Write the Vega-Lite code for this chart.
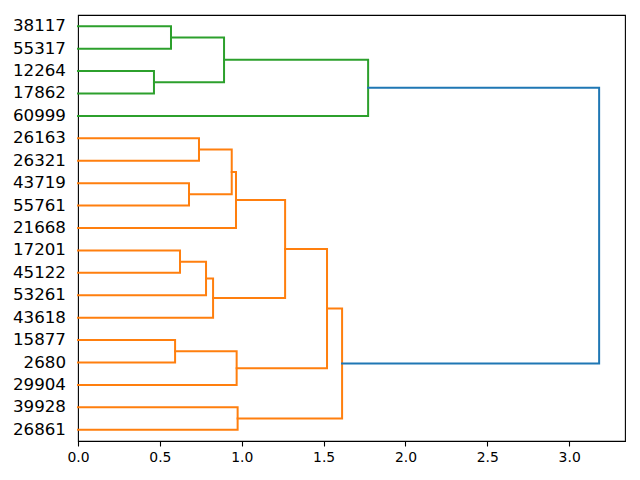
{
  "$schema": "https://vega.github.io/schema/vega-lite/v6.json",
  "width": 547,
  "height": 426,
  "autosize": {"type": "none"},
  "padding": {"left": 78, "top": 15, "right": 15, "bottom": 39},
  "config": {
    "view": {"stroke": "black", "strokeWidth": 1.1},
    "font": "DejaVu Sans",
    "axis": {"labelFont": "DejaVu Sans", "labelColor": "black", "domainColor": "black", "tickColor": "black", "grid": false}
  },
  "datasets": {
    "links": [
      {"link": 1, "c": "g", "i": 0, "x": 0, "y": 185}, {"link": 1, "c": "g", "i": 1, "x": 0.568, "y": 185}, {"link": 1, "c": "g", "i": 2, "x": 0.568, "y": 175}, {"link": 1, "c": "g", "i": 3, "x": 0, "y": 175},
      {"link": 2, "c": "g", "i": 0, "x": 0, "y": 165}, {"link": 2, "c": "g", "i": 1, "x": 0.464, "y": 165}, {"link": 2, "c": "g", "i": 2, "x": 0.464, "y": 155}, {"link": 2, "c": "g", "i": 3, "x": 0, "y": 155},
      {"link": 3, "c": "g", "i": 0, "x": 0.568, "y": 180}, {"link": 3, "c": "g", "i": 1, "x": 0.892, "y": 180}, {"link": 3, "c": "g", "i": 2, "x": 0.892, "y": 160}, {"link": 3, "c": "g", "i": 3, "x": 0.464, "y": 160},
      {"link": 4, "c": "g", "i": 0, "x": 0.892, "y": 170}, {"link": 4, "c": "g", "i": 1, "x": 1.772, "y": 170}, {"link": 4, "c": "g", "i": 2, "x": 1.772, "y": 145}, {"link": 4, "c": "g", "i": 3, "x": 0, "y": 145},
      {"link": 5, "c": "o", "i": 0, "x": 0, "y": 135}, {"link": 5, "c": "o", "i": 1, "x": 0.739, "y": 135}, {"link": 5, "c": "o", "i": 2, "x": 0.739, "y": 125}, {"link": 5, "c": "o", "i": 3, "x": 0, "y": 125},
      {"link": 6, "c": "o", "i": 0, "x": 0, "y": 115}, {"link": 6, "c": "o", "i": 1, "x": 0.678, "y": 115}, {"link": 6, "c": "o", "i": 2, "x": 0.678, "y": 105}, {"link": 6, "c": "o", "i": 3, "x": 0, "y": 105},
      {"link": 7, "c": "o", "i": 0, "x": 0.739, "y": 130}, {"link": 7, "c": "o", "i": 1, "x": 0.939, "y": 130}, {"link": 7, "c": "o", "i": 2, "x": 0.939, "y": 110}, {"link": 7, "c": "o", "i": 3, "x": 0.678, "y": 110},
      {"link": 8, "c": "o", "i": 0, "x": 0.939, "y": 120}, {"link": 8, "c": "o", "i": 1, "x": 0.965, "y": 120}, {"link": 8, "c": "o", "i": 2, "x": 0.965, "y": 95}, {"link": 8, "c": "o", "i": 3, "x": 0, "y": 95},
      {"link": 9, "c": "o", "i": 0, "x": 0, "y": 85}, {"link": 9, "c": "o", "i": 1, "x": 0.623, "y": 85}, {"link": 9, "c": "o", "i": 2, "x": 0.623, "y": 75}, {"link": 9, "c": "o", "i": 3, "x": 0, "y": 75},
      {"link": 10, "c": "o", "i": 0, "x": 0.623, "y": 80}, {"link": 10, "c": "o", "i": 1, "x": 0.782, "y": 80}, {"link": 10, "c": "o", "i": 2, "x": 0.782, "y": 65}, {"link": 10, "c": "o", "i": 3, "x": 0, "y": 65},
      {"link": 11, "c": "o", "i": 0, "x": 0.782, "y": 72.5}, {"link": 11, "c": "o", "i": 1, "x": 0.825, "y": 72.5}, {"link": 11, "c": "o", "i": 2, "x": 0.825, "y": 55}, {"link": 11, "c": "o", "i": 3, "x": 0, "y": 55},
      {"link": 12, "c": "o", "i": 0, "x": 0.965, "y": 107.5}, {"link": 12, "c": "o", "i": 1, "x": 1.265, "y": 107.5}, {"link": 12, "c": "o", "i": 2, "x": 1.265, "y": 63.75}, {"link": 12, "c": "o", "i": 3, "x": 0.825, "y": 63.75},
      {"link": 13, "c": "o", "i": 0, "x": 0, "y": 45}, {"link": 13, "c": "o", "i": 1, "x": 0.593, "y": 45}, {"link": 13, "c": "o", "i": 2, "x": 0.593, "y": 35}, {"link": 13, "c": "o", "i": 3, "x": 0, "y": 35},
      {"link": 14, "c": "o", "i": 0, "x": 0.593, "y": 40}, {"link": 14, "c": "o", "i": 1, "x": 0.969, "y": 40}, {"link": 14, "c": "o", "i": 2, "x": 0.969, "y": 25}, {"link": 14, "c": "o", "i": 3, "x": 0, "y": 25},
      {"link": 15, "c": "o", "i": 0, "x": 1.265, "y": 85.625}, {"link": 15, "c": "o", "i": 1, "x": 1.521, "y": 85.625}, {"link": 15, "c": "o", "i": 2, "x": 1.521, "y": 32.5}, {"link": 15, "c": "o", "i": 3, "x": 0.969, "y": 32.5},
      {"link": 16, "c": "o", "i": 0, "x": 0, "y": 15}, {"link": 16, "c": "o", "i": 1, "x": 0.975, "y": 15}, {"link": 16, "c": "o", "i": 2, "x": 0.975, "y": 5}, {"link": 16, "c": "o", "i": 3, "x": 0, "y": 5},
      {"link": 17, "c": "o", "i": 0, "x": 1.521, "y": 59.0625}, {"link": 17, "c": "o", "i": 1, "x": 1.613, "y": 59.0625}, {"link": 17, "c": "o", "i": 2, "x": 1.613, "y": 10}, {"link": 17, "c": "o", "i": 3, "x": 0.975, "y": 10},
      {"link": 18, "c": "b", "i": 0, "x": 1.772, "y": 157.5}, {"link": 18, "c": "b", "i": 1, "x": 3.183, "y": 157.5}, {"link": 18, "c": "b", "i": 2, "x": 3.183, "y": 34.53}, {"link": 18, "c": "b", "i": 3, "x": 1.613, "y": 34.53}
    ],
    "leaves": [
      {"label": "38117", "pos": 185}, {"label": "55317", "pos": 175}, {"label": "12264", "pos": 165},
      {"label": "17862", "pos": 155}, {"label": "60999", "pos": 145}, {"label": "26163", "pos": 135},
      {"label": "26321", "pos": 125}, {"label": "43719", "pos": 115}, {"label": "55761", "pos": 105},
      {"label": "21668", "pos": 95}, {"label": "17201", "pos": 85}, {"label": "45122", "pos": 75},
      {"label": "53261", "pos": 65}, {"label": "43618", "pos": 55}, {"label": "15877", "pos": 45},
      {"label": "2680", "pos": 35}, {"label": "29904", "pos": 25}, {"label": "39928", "pos": 15},
      {"label": "26861", "pos": 5}
    ]
  },
  "layer": [
    {
      "data": {"name": "links"},
      "mark": {"type": "line", "strokeWidth": 2, "strokeCap": "square", "strokeJoin": "miter"},
      "encoding": {
        "x": {"field": "x", "type": "quantitative", "scale": {"domain": [0, 3.341], "nice": false, "zero": false},
              "axis": {"title": null, "values": [0, 0.5, 1, 1.5, 2, 2.5, 3], "format": ".1f", "labelFontSize": 13.9, "labelFlush": false, "tickSize": 5, "labelPadding": 4, "domainWidth": 1.1, "tickWidth": 1.1}},
        "y": {"field": "y", "type": "quantitative", "scale": {"domain": [0, 190], "nice": false, "zero": false}, "axis": null},
        "detail": {"field": "link", "type": "nominal"},
        "order": {"field": "i", "type": "quantitative"},
        "color": {"field": "c", "type": "nominal", "scale": {"domain": ["g", "o", "b"], "range": ["#2ca02c", "#ff7f0e", "#1f77b4"]}, "legend": null}
      }
    },
    {
      "data": {"name": "leaves"},
      "mark": {"type": "text", "align": "right", "baseline": "middle", "dx": -12, "fontSize": 16.7, "font": "DejaVu Sans", "color": "black"},
      "encoding": {
        "x": {"datum": 0, "type": "quantitative"},
        "y": {"field": "pos", "type": "quantitative"},
        "text": {"field": "label", "type": "nominal"}
      }
    }
  ]
}
